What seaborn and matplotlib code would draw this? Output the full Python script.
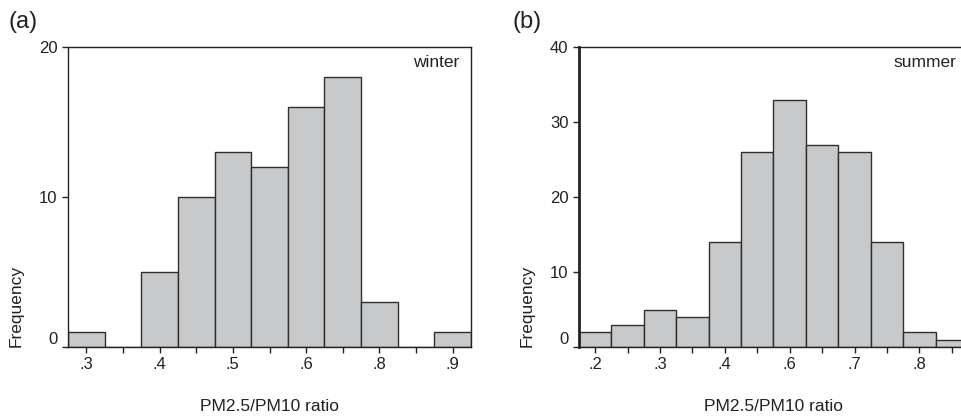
import numpy as np
import pandas as pd
import matplotlib.pyplot as plt
import seaborn as sns

# winter: bin centres (PM2.5/PM10 ratio) and counts
winter_bins = [0.30, 0.36, 0.42, 0.48, 0.54, 0.60, 0.66, 0.72, 0.78, 0.84, 0.90]
winter_counts = [1, 0, 5, 10, 13, 12, 16, 18, 3, 0, 1]
winter_ticklabels = ['.3', '.4', '.5', '.6', '.8', '.9']

# summer
summer_bins = [0.20, 0.26, 0.32, 0.38, 0.44, 0.50, 0.56, 0.62, 0.68, 0.74, 0.80, 0.86]
summer_counts = [2, 3, 5, 4, 14, 26, 33, 27, 26, 14, 2, 1]
summer_ticklabels = ['.2', '.3', '.4', '.6', '.7', '.8']

sns.set_style('ticks')
plt.rcParams['font.family'] = ['Liberation Sans', 'DejaVu Sans']
plt.rcParams['font.size'] = 12

fig = plt.figure(figsize=(9.62, 4.18), dpi=100)
ax_a = fig.add_axes([68 / 962, 71 / 418, 403 / 962, 300 / 418])
ax_b = fig.add_axes([579 / 962, 71 / 418, 389 / 962, 300 / 418])

W = 0.06


def panel(ax, centres, counts, ticklabels, ymax, season):
    df = pd.DataFrame({'ratio': centres, 'n': counts})
    c = np.array(centres)
    edges = np.append(c - W / 2, c[-1] + W / 2)
    # bins als Liste, sonst stolpert seaborn über den "auto"-Vergleich
    sns.histplot(data=df, x='ratio', weights='n', bins=edges.tolist(), ax=ax,
                 color='#c8c9cb', edgecolor='#2e2e2e', linewidth=1.0, alpha=1)
    ax.set_xlim(edges[0], edges[-1])
    ax.set_ylim(0, ymax)
    ax.set_yticks(np.arange(0, ymax + 1, 10))
    ax.set_xticks(c)
    labels = [''] * len(c)
    for i, t in enumerate(ticklabels):
        labels[2 * i] = t
    ax.set_xticklabels(labels)
    for lab in ax.get_yticklabels():
        if lab.get_text() == '0':
            lab.set_va('bottom')
    ax.tick_params(direction='out', length=4, width=1, colors='#222222',
                   labelsize=12)
    for s in ax.spines.values():
        s.set_visible(True)
        s.set_color('#222222')
        s.set_linewidth(1.0)
    ax.set_xlabel('PM2.5/PM10 ratio', fontsize=12.5, labelpad=19, color='#222222')
    ax.set_ylabel('Frequency', fontsize=12.5, loc='bottom', labelpad=11, color='#222222')
    ax.text(0.97, 0.95, season, transform=ax.transAxes, ha='right', va='center',
            fontsize=12.5, color='#222222')


panel(ax_a, winter_bins, winter_counts, winter_ticklabels, 20, 'winter')
panel(ax_b, summer_bins, summer_counts, summer_ticklabels, 40, 'summer')
ax_b.spines['left'].set_linewidth(2.0)

fig.text(9 / 962, 1 - 22 / 418, '(a)', fontsize=17, va='center', ha='left', color='#222222')
fig.text(513 / 962, 1 - 22 / 418, '(b)', fontsize=17, va='center', ha='left', color='#222222')

fig.savefig('out.png', dpi=100)
